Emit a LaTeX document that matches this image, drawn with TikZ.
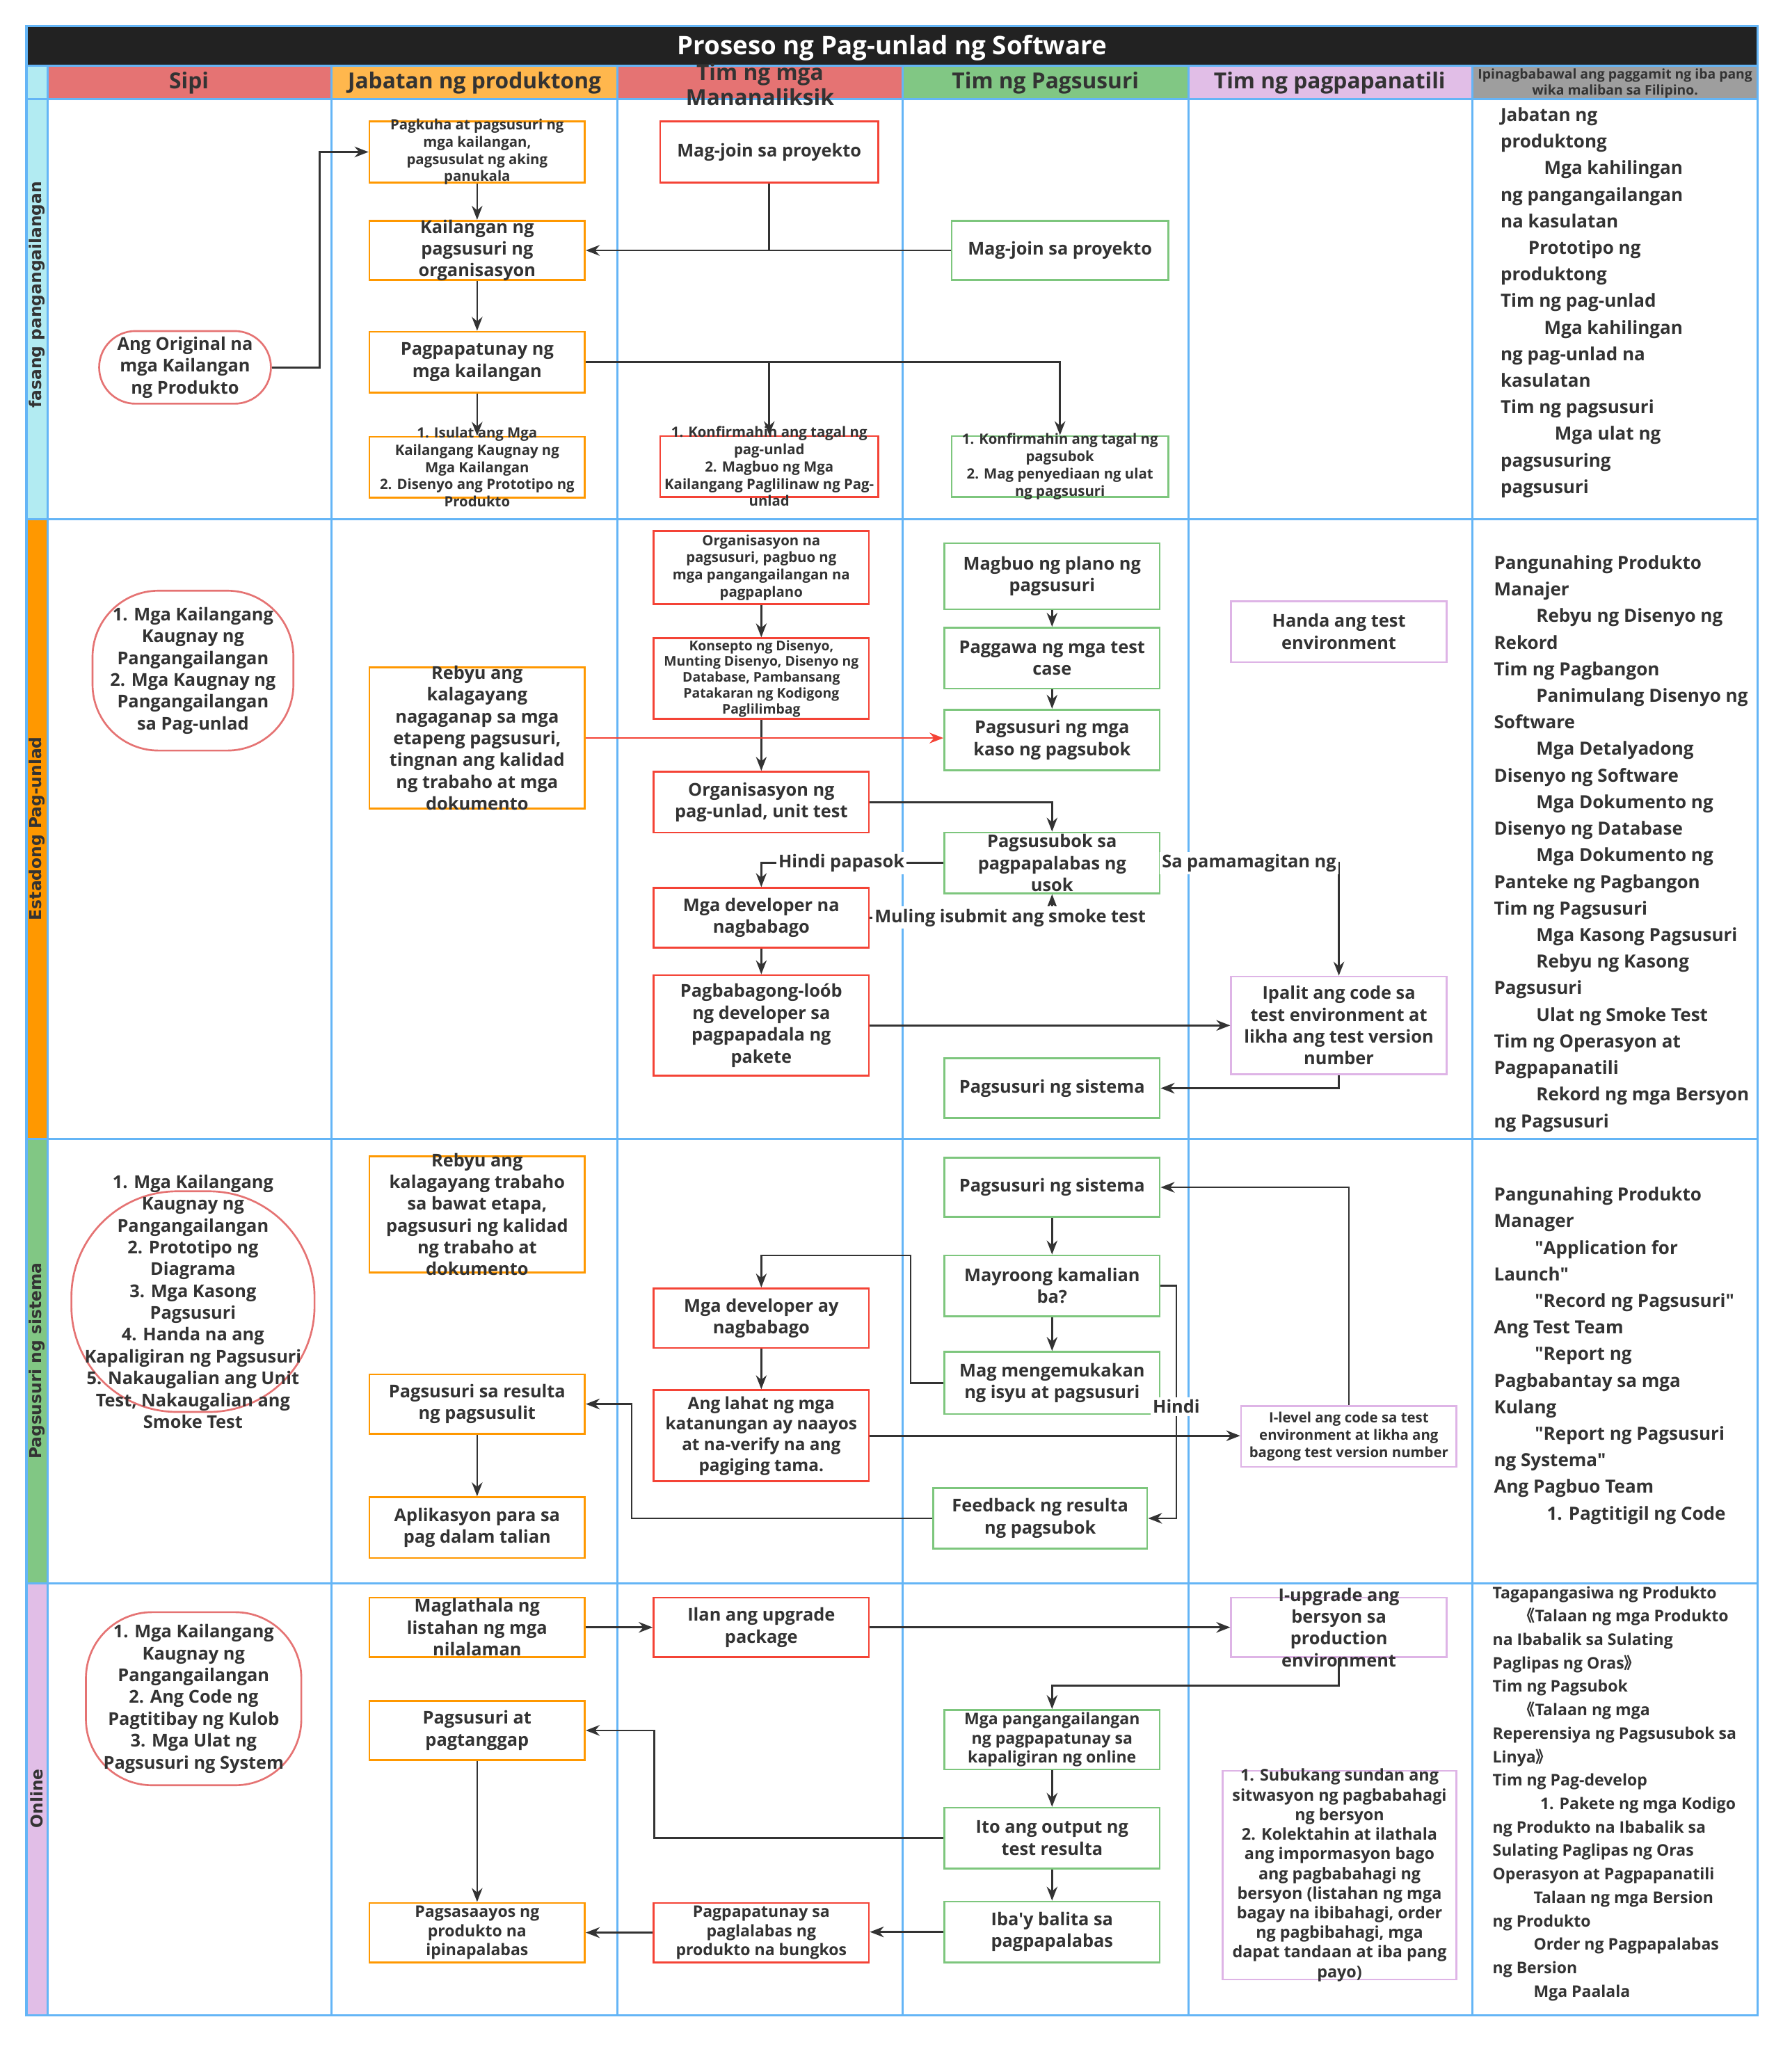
\documentclass[tikz,border=0pt]{standalone}
\usepackage{fontspec}
\setmainfont{Open Sans}
\newfontfamily\lanefont{DejaVu Sans}
\newfontfamily\cjk{Noto Sans CJK SC}
\usepackage{xcolor}
\usepackage{tikz}
\usetikzlibrary{arrows, arrows.meta, positioning, calc}
\definecolor{titledark}{RGB}{34, 34, 34}
\definecolor{gridblue}{RGB}{100, 181, 246}
\definecolor{headred}{RGB}{229, 115, 115}
\definecolor{headorange}{RGB}{255, 183, 77}
\definecolor{headgreen}{RGB}{129, 199, 132}
\definecolor{headlilac}{RGB}{225, 190, 231}
\definecolor{headgray}{RGB}{158, 158, 158}
\definecolor{lanecyan}{RGB}{178, 235, 242}
\definecolor{laneorange}{RGB}{255, 152, 0}
\definecolor{boxred}{RGB}{244, 67, 54}
\definecolor{boxorange}{RGB}{255, 152, 0}
\definecolor{boxgreen}{RGB}{125, 198, 125}
\definecolor{boxlilac}{RGB}{222, 180, 230}
\definecolor{docpink}{RGB}{229, 115, 115}
\definecolor{ink}{RGB}{51, 51, 51}
\tikzset{
    shapebox/.style={rectangle, fill=white, line width=0.8pt,
        minimum width=3.26cm, minimum height=0.92cm, inner sep=0pt},
    orangebox/.style={shapebox, draw=boxorange},
    redbox/.style={shapebox, draw=boxred},
    greenbox/.style={shapebox, draw=boxgreen},
    lilacbox/.style={shapebox, draw=boxlilac},
    docshape/.style={rectangle, rounded corners=#1, draw=docpink, fill=white,
        line width=0.8pt, inner sep=0pt},
    boxtxt/.style={font=\fontsize{7.6}{9.4}\selectfont\bfseries, text=ink,
        align=center, inner sep=0pt},
    midtxt/.style={boxtxt, font=\fontsize{6.9}{8.3}\selectfont\bfseries},
    smalltxt/.style={boxtxt, font=\fontsize{6.1}{7.4}\selectfont\bfseries},
    notetxt/.style={font=\fontsize{7.8}{11.45}\selectfont\bfseries, text=ink,
        align=left, inner sep=0pt, anchor=north west},
    headtxt/.style={font=\fontsize{9.5}{10.5}\selectfont\bfseries, text=ink,
        align=center, inner sep=0pt},
    lanetxt/.style={font=\lanefont\fontsize{7}{8}\selectfont\bfseries, text=ink,
        rotate=90, inner sep=0pt},
    linetxt/.style={font=\fontsize{7.6}{9}\selectfont\bfseries, text=ink,
        fill=white, inner sep=1pt},
    grid/.style={draw=gridblue, line width=0.9pt},
    link/.style={line width=0.8pt, draw=ink},
    arrow/.style={link, ->, >={Stealth[length=6pt, width=4.6pt]}},
    arrowred/.style={line width=0.8pt, ->, >={Stealth[length=6pt, width=4.6pt]}, draw=boxred},
}
\begin{document}
\begin{tikzpicture}[x=0.02cm, y=-0.02cm]
\useasboundingbox (0,0) rectangle (1349,1568);

% title and header row
\fill[titledark] (20,20) rectangle (1330,50);
\foreach \xa/\xb/\col in {36/251/headred, 251/467/headorange, 467/683/headred,
    683/899/headgreen, 899/1114/headlilac, 1114/1330/headgray}
    \fill[\col] (\xa,50) rectangle (\xb,75);
\fill[lanecyan] (20,50) rectangle (36,393);
\fill[laneorange] (20,393) rectangle (36,862);
\fill[headgreen] (20,862) rectangle (36,1198);
\fill[headlilac] (20,1198) rectangle (36,1525);

% grid
\draw[grid] (20,20) rectangle (1330,1525);
\foreach \y in {50,75,393,862,1198}
    \draw[grid] (20,\y) -- (1330,\y);
\foreach \x in {36,251,467,683,899,1114}
    \draw[grid] (\x,50) -- (\x,1525);

\node[font=\fontsize{11}{13}\selectfont\bfseries, text=white] (title) at (675,36) {Proseso ng Pag-unlad ng Software};
\node[headtxt] (hsipi) at (143,63) {Sipi};
\node[headtxt] (hprod) at (359,63) {Jabatan ng produktong};
\node[headtxt] (hres) at (575,64) {Tim ng mga\\Mananaliksik};
\node[headtxt] (htest) at (791,63) {Tim ng Pagsusuri};
\node[headtxt] (hmain) at (1006,63) {Tim ng pagpapanatili};
\node[headtxt, font=\fontsize{5.8}{6.8}\selectfont\bfseries] (hnote) at (1222,63) {Ipinagbabawal ang paggamit ng iba pang\\wika maliban sa Filipino.};

\node[lanetxt] (lane1) at (28,223) {fasang pangangailangan};
\node[lanetxt] (lane2) at (28,627) {Estadong Pag-unlad};
\node[lanetxt] (lane3) at (28,1030) {Pagsusuri ng sistema};
\node[lanetxt] (lane4) at (28,1361) {Online};

% lane 1
\node[docshape=0.55cm, minimum width=2.6cm, minimum height=1.1cm,
    label={[boxtxt]center:{Ang Original na\\mga Kailangan\\ng Produkto}}] (orig) at (140,278) {};
\node[orangebox, label={[smalltxt]center:{Pagkuha at pagsusuri ng\\mga kailangan,\\pagsusulat ng aking\\panukala}}] (pagkuha) at (361,115) {};
\node[orangebox, minimum height=0.9cm, label={[boxtxt]center:{Kailangan ng\\pagsusuri ng\\organisasyon}}] (kailangan) at (361,189.5) {};
\node[orangebox, label={[boxtxt]center:{Pagpapatunay ng\\mga kailangan}}] (patunay) at (361,274) {};
\node[orangebox, label={[smalltxt]center:{1. Isulat ang Mga\\Kailangang Kaugnay ng\\Mga Kailangan\\2. Disenyo ang Prototipo ng\\Produkto}}] (isulat) at (361,353.5) {};
\node[redbox, minimum width=3.3cm, label={[boxtxt]center:{Mag-join sa proyekto}}] (joinres) at (582,115) {};
\node[redbox, minimum width=3.3cm, label={[smalltxt]center:{1. Konfirmahin ang tagal ng\\pag-unlad\\2. Magbuo ng Mga\\Kailangang Paglilinaw ng Pag-\\unlad}}] (konfres) at (582,353) {};
\node[greenbox, minimum width=3.28cm, minimum height=0.9cm, label={[boxtxt]center:{Mag-join sa proyekto}}] (jointest) at (802,189.5) {};
\node[greenbox, minimum width=3.28cm, label={[smalltxt]center:{1. Konfirmahin ang tagal ng\\pagsubok\\2. Mag penyediaan ng ulat\\ng pagsusuri}}] (konftest) at (802,353) {};
\node[notetxt] (notes1) at (1135,81) {Jabatan ng\\produktong\\\hspace*{0.66cm}Mga kahilingan\\ng pangangailangan\\na kasulatan\\\hspace*{0.42cm}Prototipo ng\\produktong\\Tim ng pag-unlad\\\hspace*{0.66cm}Mga kahilingan\\ng pag-unlad na\\kasulatan\\Tim ng pagsusuri\\\hspace*{0.82cm}Mga ulat ng\\pagsusuring\\pagsusuri};

\draw[arrow] (orig.east) -- (242,278) |- (pagkuha.west);
\draw[arrow] (pagkuha.south) -- (kailangan.north);
\draw[arrow] (jointest.west) -- (kailangan.east);
\draw[link] (joinres.south) -- (joinres.south |- kailangan.east);
\draw[arrow] (kailangan.south) -- (patunay.north);
\draw[arrow] (patunay.south) -- (isulat.north);
\draw[arrow] (patunay.east) -| (konftest.north);
\draw[arrow] (patunay.east -| konfres.north) -- (konfres.north);

% lane 2
\node[docshape=1cm, minimum width=3.04cm, minimum height=2.42cm,
    label={[boxtxt]center:{1. Mga Kailangang\\Kaugnay ng\\Pangangailangan\\2. Mga Kaugnay ng\\Pangangailangan\\sa Pag-unlad}}] (doc2) at (146,507.5) {};
\node[orangebox, minimum height=2.14cm, label={[boxtxt]center:{Rebyu ang\\kalagayang\\nagaganap sa mga\\etapeng pagsusuri,\\tingnan ang kalidad\\ng trabaho at mga\\dokumento}}] (rebyu2) at (361,558.5) {};
\node[redbox, minimum height=1.1cm, label={[smalltxt]center:{Organisasyon na\\pagsusuri, pagbuo ng\\mga pangangailangan na\\pagpaplano}}] (orgtest) at (576,429.5) {};
\node[redbox, minimum height=1.22cm, label={[smalltxt, font=\fontsize{5.8}{6.8}\selectfont\bfseries]center:{Konsepto ng Disenyo,\\Munting Disenyo, Disenyo ng\\Database, Pambansang\\Patakaran ng Kodigong\\Paglilimbag}}] (konsepto) at (576,513.5) {};
\node[redbox, label={[boxtxt]center:{Organisasyon ng\\pag-unlad, unit test}}] (orgdev) at (576,607) {};
\node[redbox, minimum height=0.9cm, label={[boxtxt]center:{Mga developer na\\nagbabago}}] (devchange) at (576,694.5) {};
\node[redbox, minimum height=1.52cm, label={[boxtxt]center:{Pagbabagong-loób\\ng developer sa\\pagpapadala ng\\pakete}}] (pagbabago) at (576,776) {};
\node[greenbox, minimum height=1cm, label={[boxtxt]center:{Magbuo ng plano ng\\pagsusuri}}] (plano) at (796,436) {};
\node[greenbox, label={[boxtxt]center:{Paggawa ng mga test\\case}}] (testcase) at (796,498) {};
\node[greenbox, label={[boxtxt]center:{Pagsusuri ng mga\\kaso ng pagsubok}}] (kaso) at (796,560) {};
\node[greenbox, label={[boxtxt]center:{Pagsusubok sa\\pagpapalabas ng\\usok}}] (smoke) at (796,653) {};
\node[greenbox, minimum height=0.9cm, label={[boxtxt]center:{Pagsusuri ng sistema}}] (systest1) at (796,823.5) {};
\node[lilacbox, label={[boxtxt]center:{Handa ang test\\environment}}] (envready) at (1013,478) {};
\node[lilacbox, minimum height=1.48cm, label={[boxtxt]center:{Ipalit ang code sa\\test environment at\\likha ang test version\\number}}] (swapcode) at (1013,776) {};
\node[notetxt] (notes2) at (1130,420) {Pangunahing Produkto\\Manajer\\\hspace*{0.64cm}Rebyu ng Disenyo ng\\Rekord\\Tim ng Pagbangon\\\hspace*{0.64cm}Panimulang Disenyo ng\\Software\\\hspace*{0.64cm}Mga Detalyadong\\Disenyo ng Software\\\hspace*{0.64cm}Mga Dokumento ng\\Disenyo ng Database\\\hspace*{0.64cm}Mga Dokumento ng\\Panteke ng Pagbangon\\Tim ng Pagsusuri\\\hspace*{0.64cm}Mga Kasong Pagsusuri\\\hspace*{0.64cm}Rebyu ng Kasong\\Pagsusuri\\\hspace*{0.64cm}Ulat ng Smoke Test\\Tim ng Operasyon at\\Pagpapanatili\\\hspace*{0.64cm}Rekord ng mga Bersyon\\ng Pagsusuri};

\draw[arrow] (orgtest.south) -- (konsepto.north);
\draw[arrow] (konsepto.south) -- (orgdev.north);
\draw[arrowred] (rebyu2.east) -- (rebyu2.east -| kaso.west);
\draw[arrow] (plano.south) -- (testcase.north);
\draw[arrow] (testcase.south) -- (kaso.north);
\draw[arrow] (orgdev.east) -| (smoke.north);
\draw[arrow] (smoke.west) -| node[linetxt, pos=0.28] (nopass) {Hindi papasok} (devchange.north);
\draw[arrow] (devchange.east) -| node[linetxt, pos=0.385] (resubmit) {Muling isubmit ang smoke test} (smoke.south);
\draw[arrow] (devchange.south) -- (pagbabago.north);
\draw[arrow] (smoke.east) -| node[linetxt, pos=0.248] (through) {Sa pamamagitan ng} (swapcode.north);
\draw[arrow] (pagbabago.east) -- (pagbabago.east -| swapcode.west);
\draw[arrow] (swapcode.south) |- (systest1.east);

% lane 3
\node[docshape=1.6cm, minimum width=3.68cm, minimum height=3.34cm,
    label={[boxtxt]center:{1. Mga Kailangang\\Kaugnay ng\\Pangangailangan\\2. Prototipo ng\\Diagrama\\3. Mga Kasong\\Pagsusuri\\4. Handa na ang\\Kapaligiran ng Pagsusuri\\5. Nakaugalian ang Unit\\Test, Nakaugalian ang\\Smoke Test}}] (doc3) at (146,985) {};
\node[orangebox, minimum height=1.76cm, label={[boxtxt]center:{Rebyu ang\\kalagayang trabaho\\sa bawat etapa,\\pagsusuri ng kalidad\\ng trabaho at\\dokumento}}] (rebyu3) at (361,919) {};
\node[orangebox, minimum height=0.9cm, label={[boxtxt]center:{Pagsusuri sa resulta\\ng pagsusulit}}] (resulta) at (361,1062.5) {};
\node[orangebox, label={[boxtxt]center:{Aplikasyon para sa\\pag dalam talian}}] (aplikasyon) at (361,1156) {};
\node[redbox, minimum height=0.9cm, label={[boxtxt]center:{Mga developer ay\\nagbabago}}] (devfix) at (576,997.5) {};
\node[redbox, minimum height=1.38cm, label={[boxtxt, font=\fontsize{7.3}{8.9}\selectfont\bfseries]center:{Ang lahat ng mga\\katanungan ay naayos\\at na-verify na ang\\pagiging tama.}}] (lahat) at (576,1086.5) {};
\node[greenbox, minimum height=0.9cm, label={[boxtxt]center:{Pagsusuri ng sistema}}] (systest2) at (796,898.5) {};
\node[greenbox, label={[boxtxt]center:{Mayroong kamalian\\ba?}}] (error) at (796,973) {};
\node[greenbox, minimum height=0.94cm, label={[boxtxt]center:{Mag mengemukakan\\ng isyu at pagsusuri}}] (issue) at (796,1046.5) {};
\node[greenbox, minimum width=3.24cm, label={[boxtxt]center:{Feedback ng resulta\\ng pagsubok}}] (feedback) at (787,1149) {};
\node[lilacbox, label={[smalltxt]center:{I-level ang code sa test\\environment at likha ang\\bagong test version number}}] (levelcode) at (1020.5,1087) {};
\node[notetxt] (notes3) at (1130,898) {Pangunahing Produkto\\Manager\\\hspace*{0.62cm}\textquotedbl Application for\\Launch\textquotedbl\\\hspace*{0.62cm}\textquotedbl Record ng Pagsusuri\textquotedbl\\Ang Test Team\\\hspace*{0.62cm}\textquotedbl Report ng\\Pagbabantay sa mga\\Kulang\\\hspace*{0.62cm}\textquotedbl Report ng Pagsusuri\\ng Systema\textquotedbl\\Ang Pagbuo Team\\\hspace*{0.8cm}1. Pagtitigil ng Code};

\draw[arrow] (issue.west) -| (689,950) -| (devfix.north);
\draw[arrow] (devfix.south) -- (lahat.north);
\draw[arrow] (lahat.east) -- (lahat.east -| levelcode.west);
\draw[arrow] (levelcode.north) |- (systest2.east);
\draw[arrow] (systest2.south) -- (error.north);
\draw[arrow] (error.south) -- (issue.north);
\draw[arrow] (error.east) -- (890,973) |- node[linetxt, pos=0.26] (nope) {Hindi} (feedback.east);
\draw[arrow] (feedback.west) -| (478,1062.5) -- (resulta.east);
\draw[arrow] (resulta.south) -- (aplikasyon.north);

% lane 4
\node[docshape=1cm, minimum width=3.26cm, minimum height=2.62cm,
    label={[boxtxt]center:{1. Mga Kailangang\\Kaugnay ng\\Pangangailangan\\2. Ang Code ng\\Pagtitibay ng Kulob\\3. Mga Ulat ng\\Pagsusuri ng System}}] (doc4) at (146.5,1285.5) {};
\node[orangebox, minimum height=0.9cm, label={[boxtxt]center:{Maglathala ng\\listahan ng mga\\nilalaman}}] (publish) at (361,1231.5) {};
\node[orangebox, minimum height=0.9cm, label={[boxtxt]center:{Pagsusuri at\\pagtanggap}}] (accept) at (361,1309.5) {};
\node[orangebox, minimum height=0.9cm, label={[midtxt]center:{Pagsasaayos ng\\produkto na\\ipinapalabas}}] (arrange) at (361,1462.5) {};
\node[redbox, minimum height=0.9cm, label={[boxtxt]center:{Ilan ang upgrade\\package}}] (upgrade) at (576,1231.5) {};
\node[redbox, minimum height=0.9cm, label={[midtxt]center:{Pagpapatunay sa\\paglalabas ng\\produkto na bungkos}}] (confirm) at (576,1462.5) {};
\node[lilacbox, minimum height=0.9cm, label={[boxtxt]center:{I-upgrade ang\\bersyon sa\\production\\environment}}] (prodenv) at (1013,1231.5) {};
\node[greenbox, minimum height=0.9cm, label={[midtxt]center:{Mga pangangailangan\\ng pagpapatunay sa\\kapaligiran ng online}}] (onlinereq) at (796,1316.5) {};
\node[greenbox, label={[boxtxt]center:{Ito ang output ng\\test resulta}}] (output) at (796,1391) {};
\node[greenbox, label={[boxtxt]center:{Iba\textquotesingle y balita sa\\pagpapalabas}}] (news) at (796,1462) {};
\node[lilacbox, minimum width=3.54cm, minimum height=3.16cm, label={[midtxt, font=\fontsize{7}{8.45}\selectfont\bfseries]center:{1. Subukang sundan ang\\sitwasyon ng pagbabahagi\\ng bersyon\\2. Kolektahin at ilathala\\ang impormasyon bago\\ang pagbabahagi ng\\bersyon (listahan ng mga\\bagay na ibibahagi, order\\ng pagbibahagi, mga\\dapat tandaan at iba pang\\payo)}}] (share) at (1013.5,1419) {};
\node[notetxt, font=\fontsize{6.9}{10.1}\selectfont\bfseries] (notes4) at (1129,1200) {Tagapangasiwa ng Produkto\\\hspace*{0.4cm}{\cjk 《}Talaan ng mga Produkto\\na Ibabalik sa Sulating\\Paglipas ng Oras{\cjk 》}\\Tim ng Pagsubok\\\hspace*{0.4cm}{\cjk 《}Talaan ng mga\\Reperensiya ng Pagsusubok sa\\Linya{\cjk 》}\\Tim ng Pag-develop\\\hspace*{0.72cm}1. Pakete ng mga Kodigo\\ng Produkto na Ibabalik sa\\Sulating Paglipas ng Oras\\Operasyon at Pagpapanatili\\\hspace*{0.62cm}Talaan ng mga Bersion\\ng Produkto\\\hspace*{0.62cm}Order ng Pagpapalabas\\ng Bersion\\\hspace*{0.62cm}Mga Paalala};

\draw[arrow] (publish.east) -- (upgrade.west);
\draw[arrow] (upgrade.east) -- (prodenv.west);
\draw[arrow] (prodenv.south) -- ++(0,21) -| (onlinereq.north);
\draw[arrow] (onlinereq.south) -- (output.north);
\draw[arrow] (output.south) -- (news.north);
\draw[arrow] (output.west) -| (495,1309.5) -- (accept.east);
\draw[arrow] (news.west) -- (news.west -| confirm.east);
\draw[arrow] (confirm.west) -- (arrange.east);
\draw[arrow] (accept.south) -- (arrange.north);
\end{tikzpicture}
\end{document}
